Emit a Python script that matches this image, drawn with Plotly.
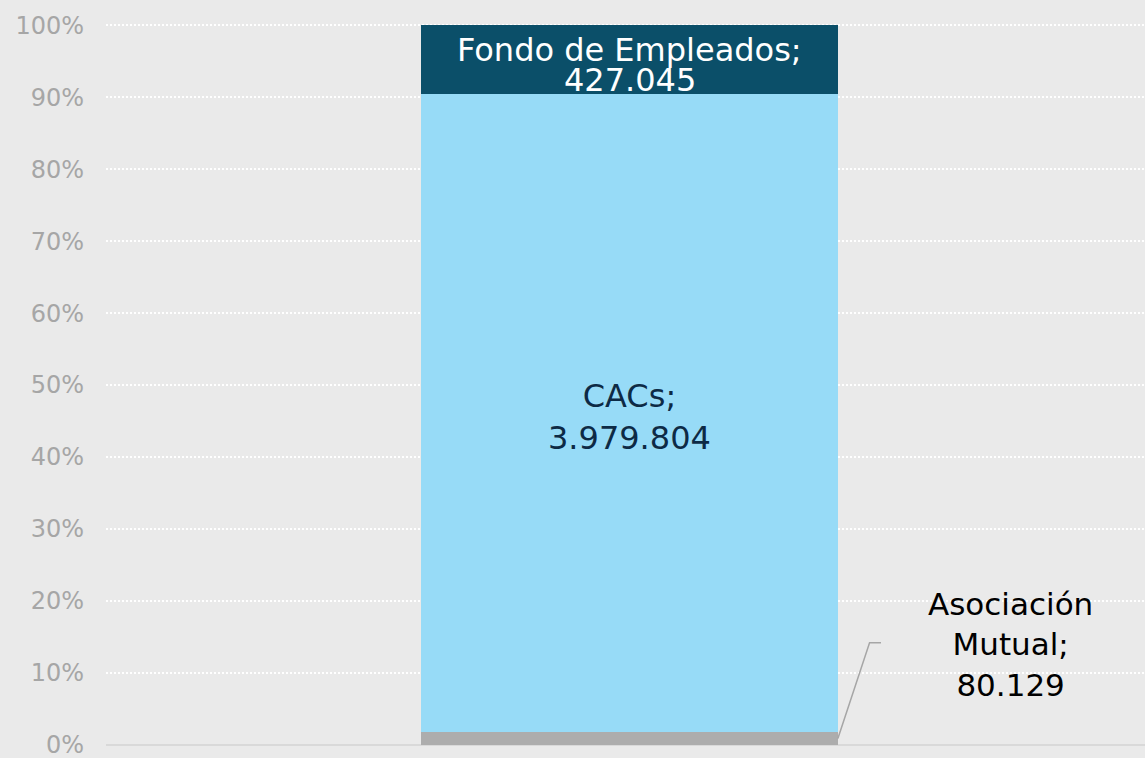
import plotly.graph_objects as go

category = [""]
series_names = ["Asociación Mutual", "CACs", "Fondo de Empleados"]
values = [80129, 3979804, 427045]
colors = ["#adadad", "#97dbf7", "#0b4f69"]
label_colors = ["#000000", "#0d2a45", "#ffffff"]
y_ticks = [0, 10, 20, 30, 40, 50, 60, 70, 80, 90, 100]
y_tick_text = [f"{t}%" for t in y_ticks]


def fmt(v):
    return f"{v:,}".replace(",", ".")


total = sum(values)
pcts = [v / total * 100 for v in values]

fig = go.Figure()
for name, v, c in zip(series_names, values, colors):
    fig.add_trace(go.Bar(x=category, y=[v], name=name, marker=dict(color=c, line=dict(width=0)),
                         width=0.401, hoverinfo="skip"))

font = "DejaVu Sans, Verdana, sans-serif"
bases = [sum(pcts[:i]) for i in range(len(pcts))]
centers = [b + p / 2 for b, p in zip(bases, pcts)]

# CACs label (middle segment)
fig.add_annotation(x=0, y=centers[1], xref="x", yref="y", showarrow=False,
                   text=f"CACs;<br>{fmt(values[1])}", yshift=-4,
                   font=dict(family=font, size=32, color=label_colors[1]))
# Fondo label (top segment, tightly packed)
fig.add_annotation(x=0, y=centers[2], xref="x", yref="y", showarrow=False,
                   text="Fondo de Empleados;", yshift=9,
                   font=dict(family=font, size=32, color=label_colors[2]))
fig.add_annotation(x=0, y=centers[2], xref="x", yref="y", showarrow=False,
                   text=fmt(values[2]), yshift=-21,
                   font=dict(family=font, size=32, color=label_colors[2]))
# Asociación Mutual label with leader line
fig.add_annotation(x=0.367, y=14.0, xref="x", yref="y", showarrow=False,
                   text=f"Asociación<br>Mutual;<br>{fmt(values[0])}",
                   font=dict(family=font, size=31, color=label_colors[0]))
fig.add_shape(type="path", xref="x", yref="y",
              path=f"M 0.2005,{centers[0]} L 0.231,14.2 L 0.242,14.2",
              line=dict(color="#a6a6a6", width=1.5))

fig.update_layout(
    barmode="stack",
    barnorm="percent",
    width=1145, height=758,
    margin=dict(l=106, r=0, t=23, b=13),
    paper_bgcolor="#eaeaea",
    plot_bgcolor="#eaeaea",
    showlegend=False,
    xaxis=dict(range=[-0.5039, 0.4961], showticklabels=False, showgrid=False,
               zeroline=False, showline=False),
    yaxis=dict(range=[0, 100.3], tickmode="array", tickvals=y_ticks, ticktext=y_tick_text,
               tickfont=dict(family=font, size=24, color="#a6a6a6"),
               showgrid=True, gridcolor="#ffffff", gridwidth=2, griddash="2px,2px",
               zeroline=True, zerolinecolor="#d9d9d9", zerolinewidth=2,
               showline=False, ticklabelstandoff=21, ticklabeloverflow="allow"),
)

fig.write_html("out.html", config={"displayModeBar": False},
               post_script="document.body.style.margin='0';document.body.style.background='#eaeaea';")
